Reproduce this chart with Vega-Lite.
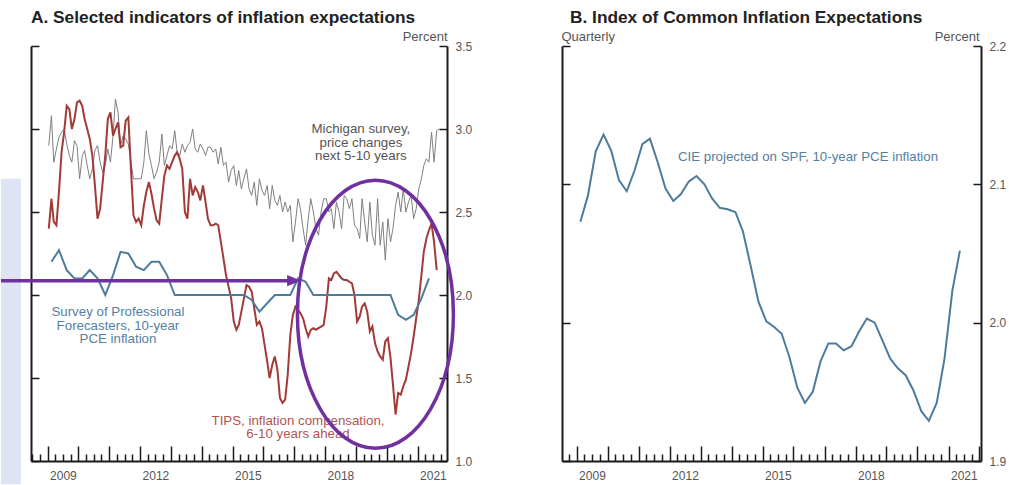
{
"$schema": "https://vega.github.io/schema/vega-lite/v6.json",
"background": "white",
"padding": {"left": 0, "top": 8, "right": 0, "bottom": 0},
"spacing": 89,
"config": {
  "font": "Liberation Sans",
  "view": {"stroke": null},
  "axis": {"domainColor": "#1a1a1a", "domainWidth": 2, "tickColor": "#1a1a1a", "tickWidth": 1.5, "labelColor": "#555555", "labelFontSize": 12, "labelFont": "Liberation Sans", "grid": false, "titleFont": "Liberation Sans", "titleFontSize": 13, "titleFontWeight": "normal", "titleColor": "#555555", "labelFlush": false, "labelOverlap": false}
},
"datasets": {
"monthly": [
{"d":"2009-01-15","mich":2.90,"tips":2.40},{"d":"2009-02-15","mich":3.08,"tips":2.58},{"d":"2009-03-15","mich":2.80,"tips":2.44},{"d":"2009-04-15","mich":2.88,"tips":2.42},{"d":"2009-05-15","mich":2.95,"tips":2.62},{"d":"2009-06-15","mich":2.98,"tips":2.86},{"d":"2009-07-15","mich":3.00,"tips":2.98},{"d":"2009-08-15","mich":2.91,"tips":3.14},{"d":"2009-09-15","mich":2.84,"tips":3.12},{"d":"2009-10-15","mich":2.80,"tips":3.00},{"d":"2009-11-15","mich":2.93,"tips":3.06},{"d":"2009-12-15","mich":2.90,"tips":3.16},
{"d":"2010-01-15","mich":2.70,"tips":3.17},{"d":"2010-02-15","mich":2.84,"tips":3.14},{"d":"2010-03-15","mich":2.87,"tips":3.06},{"d":"2010-04-15","mich":2.78,"tips":3.00},{"d":"2010-05-15","mich":2.70,"tips":2.94},{"d":"2010-06-15","mich":2.76,"tips":2.84},{"d":"2010-07-15","mich":2.87,"tips":2.66},{"d":"2010-08-15","mich":2.90,"tips":2.46},{"d":"2010-09-15","mich":2.80,"tips":2.52},{"d":"2010-10-15","mich":2.74,"tips":2.68},{"d":"2010-11-15","mich":2.78,"tips":2.84},{"d":"2010-12-15","mich":2.88,"tips":3.06},
{"d":"2011-01-15","mich":2.80,"tips":3.10},{"d":"2011-02-15","mich":2.96,"tips":2.96},{"d":"2011-03-15","mich":3.18,"tips":3.00},{"d":"2011-04-15","mich":3.10,"tips":3.04},{"d":"2011-05-15","mich":2.90,"tips":2.89},{"d":"2011-06-15","mich":2.96,"tips":2.90},{"d":"2011-07-15","mich":2.94,"tips":3.05},{"d":"2011-08-15","mich":2.91,"tips":3.07},{"d":"2011-09-15","mich":2.80,"tips":2.76},{"d":"2011-10-15","mich":2.70,"tips":2.48},{"d":"2011-11-15","mich":2.70,"tips":2.44},{"d":"2011-12-15","mich":2.70,"tips":2.46},
{"d":"2012-01-15","mich":2.70,"tips":2.42},{"d":"2012-02-15","mich":2.80,"tips":2.54},{"d":"2012-03-15","mich":2.99,"tips":2.62},{"d":"2012-04-15","mich":2.85,"tips":2.68},{"d":"2012-05-15","mich":2.78,"tips":2.61},{"d":"2012-06-15","mich":2.70,"tips":2.52},{"d":"2012-07-15","mich":2.74,"tips":2.45},{"d":"2012-08-15","mich":2.80,"tips":2.43},{"d":"2012-09-15","mich":2.97,"tips":2.58},{"d":"2012-10-15","mich":2.78,"tips":2.72},{"d":"2012-11-15","mich":2.84,"tips":2.78},{"d":"2012-12-15","mich":2.90,"tips":2.76},
{"d":"2013-01-15","mich":2.88,"tips":2.80},{"d":"2013-02-15","mich":2.99,"tips":2.84},{"d":"2013-03-15","mich":2.86,"tips":2.86},{"d":"2013-04-15","mich":2.84,"tips":2.82},{"d":"2013-05-15","mich":2.91,"tips":2.76},{"d":"2013-06-15","mich":2.86,"tips":2.50},{"d":"2013-07-15","mich":2.90,"tips":2.46},{"d":"2013-08-15","mich":2.92,"tips":2.70},{"d":"2013-09-15","mich":3.00,"tips":2.60},{"d":"2013-10-15","mich":2.88,"tips":2.65},{"d":"2013-11-15","mich":2.86,"tips":2.62},{"d":"2013-12-15","mich":2.91,"tips":2.57},
{"d":"2014-01-15","mich":2.88,"tips":2.66},{"d":"2014-02-15","mich":2.84,"tips":2.56},{"d":"2014-03-15","mich":2.89,"tips":2.46},{"d":"2014-04-15","mich":2.89,"tips":2.42},{"d":"2014-05-15","mich":2.86,"tips":2.42},{"d":"2014-06-15","mich":2.88,"tips":2.43},{"d":"2014-07-15","mich":2.79,"tips":2.42},{"d":"2014-08-15","mich":2.89,"tips":2.32},{"d":"2014-09-15","mich":2.78,"tips":2.22},{"d":"2014-10-15","mich":2.80,"tips":2.12},{"d":"2014-11-15","mich":2.68,"tips":2.05},{"d":"2014-12-15","mich":2.75,"tips":1.98},
{"d":"2015-01-15","mich":2.78,"tips":1.84},{"d":"2015-02-15","mich":2.66,"tips":1.79},{"d":"2015-03-15","mich":2.75,"tips":1.82},{"d":"2015-04-15","mich":2.64,"tips":1.90},{"d":"2015-05-15","mich":2.70,"tips":1.98},{"d":"2015-06-15","mich":2.76,"tips":2.06},{"d":"2015-07-15","mich":2.64,"tips":2.05},{"d":"2015-08-15","mich":2.60,"tips":2.02},{"d":"2015-09-15","mich":2.68,"tips":1.92},{"d":"2015-10-15","mich":2.54,"tips":1.82},{"d":"2015-11-15","mich":2.70,"tips":1.84},{"d":"2015-12-15","mich":2.63,"tips":1.80},
{"d":"2016-01-15","mich":2.60,"tips":1.70},{"d":"2016-02-15","mich":2.66,"tips":1.60},{"d":"2016-03-15","mich":2.52,"tips":1.50},{"d":"2016-04-15","mich":2.66,"tips":1.58},{"d":"2016-05-15","mich":2.57,"tips":1.63},{"d":"2016-06-15","mich":2.54,"tips":1.55},{"d":"2016-07-15","mich":2.60,"tips":1.38},{"d":"2016-08-15","mich":2.50,"tips":1.35},{"d":"2016-09-15","mich":2.56,"tips":1.37},{"d":"2016-10-15","mich":2.50,"tips":1.52},{"d":"2016-11-15","mich":2.54,"tips":1.76},{"d":"2016-12-15","mich":2.32,"tips":1.88},
{"d":"2017-01-15","mich":2.44,"tips":1.93},{"d":"2017-02-15","mich":2.58,"tips":1.91},{"d":"2017-03-15","mich":2.52,"tips":1.89},{"d":"2017-04-15","mich":2.40,"tips":1.86},{"d":"2017-05-15","mich":2.30,"tips":1.80},{"d":"2017-06-15","mich":2.46,"tips":1.75},{"d":"2017-07-15","mich":2.58,"tips":1.79},{"d":"2017-08-15","mich":2.50,"tips":1.80},{"d":"2017-09-15","mich":2.40,"tips":1.79},{"d":"2017-10-15","mich":2.36,"tips":1.80},{"d":"2017-11-15","mich":2.50,"tips":1.81},{"d":"2017-12-15","mich":2.58,"tips":1.82},
{"d":"2018-01-15","mich":2.58,"tips":1.93},{"d":"2018-02-15","mich":2.50,"tips":2.10},{"d":"2018-03-15","mich":2.52,"tips":2.09},{"d":"2018-04-15","mich":2.40,"tips":2.13},{"d":"2018-05-15","mich":2.56,"tips":2.14},{"d":"2018-06-15","mich":2.50,"tips":2.12},{"d":"2018-07-15","mich":2.40,"tips":2.10},{"d":"2018-08-15","mich":2.60,"tips":2.09},{"d":"2018-09-15","mich":2.58,"tips":2.09},{"d":"2018-10-15","mich":2.52,"tips":2.08},{"d":"2018-11-15","mich":2.58,"tips":2.07},{"d":"2018-12-15","mich":2.42,"tips":2.00},
{"d":"2019-01-15","mich":2.40,"tips":1.84},{"d":"2019-02-15","mich":2.34,"tips":1.87},{"d":"2019-03-15","mich":2.58,"tips":1.93},{"d":"2019-04-15","mich":2.44,"tips":1.95},{"d":"2019-05-15","mich":2.32,"tips":1.90},{"d":"2019-06-15","mich":2.56,"tips":1.78},{"d":"2019-07-15","mich":2.36,"tips":1.81},{"d":"2019-08-15","mich":2.30,"tips":1.71},{"d":"2019-09-15","mich":2.58,"tips":1.66},{"d":"2019-10-15","mich":2.30,"tips":1.63},{"d":"2019-11-15","mich":2.44,"tips":1.61},{"d":"2019-12-15","mich":2.21,"tips":1.72},
{"d":"2020-01-15","mich":2.46,"tips":1.74},{"d":"2020-02-15","mich":2.32,"tips":1.62},{"d":"2020-03-15","mich":2.40,"tips":1.46},{"d":"2020-04-15","mich":2.54,"tips":1.28},{"d":"2020-05-15","mich":2.62,"tips":1.41},{"d":"2020-06-15","mich":2.50,"tips":1.40},{"d":"2020-07-15","mich":2.64,"tips":1.45},{"d":"2020-08-15","mich":2.50,"tips":1.49},{"d":"2020-09-15","mich":2.56,"tips":1.57},{"d":"2020-10-15","mich":2.60,"tips":1.65},{"d":"2020-11-15","mich":2.46,"tips":1.75},{"d":"2020-12-15","mich":2.52,"tips":1.86},
{"d":"2021-01-15","mich":2.64,"tips":1.97},{"d":"2021-02-15","mich":2.70,"tips":2.12},{"d":"2021-03-15","mich":2.78,"tips":2.26},{"d":"2021-04-15","mich":2.82,"tips":2.34},{"d":"2021-05-15","mich":2.80,"tips":2.39},{"d":"2021-06-15","mich":2.98,"tips":2.43},{"d":"2021-07-15","mich":2.80,"tips":2.32},{"d":"2021-08-15","mich":2.99,"tips":2.15},{"d":"2021-09-15","mich":3.00,"tips":null}
],
"quarterly": [
{"d":"2009-02-15","spf":2.20,"cie":2.073},{"d":"2009-05-15","spf":2.27,"cie":2.092},{"d":"2009-08-15","spf":2.15,"cie":2.124},{"d":"2009-11-15","spf":2.10,"cie":2.136},
{"d":"2010-02-15","spf":2.10,"cie":2.124},{"d":"2010-05-15","spf":2.15,"cie":2.103},{"d":"2010-08-15","spf":2.10,"cie":2.095},{"d":"2010-11-15","spf":2.00,"cie":2.110},
{"d":"2011-02-15","spf":2.12,"cie":2.129},{"d":"2011-05-15","spf":2.26,"cie":2.133},{"d":"2011-08-15","spf":2.25,"cie":2.116},{"d":"2011-11-15","spf":2.17,"cie":2.097},
{"d":"2012-02-15","spf":2.15,"cie":2.088},{"d":"2012-05-15","spf":2.20,"cie":2.093},{"d":"2012-08-15","spf":2.20,"cie":2.102},{"d":"2012-11-15","spf":2.12,"cie":2.106},
{"d":"2013-02-15","spf":2.00,"cie":2.100},{"d":"2013-05-15","spf":2.00,"cie":2.090},{"d":"2013-08-15","spf":2.00,"cie":2.083},{"d":"2013-11-15","spf":2.00,"cie":2.082},
{"d":"2014-02-15","spf":2.00,"cie":2.080},{"d":"2014-05-15","spf":2.00,"cie":2.066},{"d":"2014-08-15","spf":2.00,"cie":2.041},{"d":"2014-11-15","spf":2.00,"cie":2.015},
{"d":"2015-02-15","spf":2.00,"cie":2.001},{"d":"2015-05-15","spf":2.00,"cie":1.997},{"d":"2015-08-15","spf":1.97,"cie":1.992},{"d":"2015-11-15","spf":1.90,"cie":1.975},
{"d":"2016-02-15","spf":1.95,"cie":1.953},{"d":"2016-05-15","spf":2.00,"cie":1.942},{"d":"2016-08-15","spf":2.00,"cie":1.950},{"d":"2016-11-15","spf":2.00,"cie":1.972},
{"d":"2017-02-15","spf":2.10,"cie":1.985},{"d":"2017-05-15","spf":2.08,"cie":1.985},{"d":"2017-08-15","spf":2.00,"cie":1.980},{"d":"2017-11-15","spf":2.00,"cie":1.983},
{"d":"2018-02-15","spf":2.00,"cie":1.994},{"d":"2018-05-15","spf":2.00,"cie":2.003},{"d":"2018-08-15","spf":2.00,"cie":2.000},{"d":"2018-11-15","spf":2.00,"cie":1.987},
{"d":"2019-02-15","spf":2.00,"cie":1.974},{"d":"2019-05-15","spf":2.00,"cie":1.967},{"d":"2019-08-15","spf":2.00,"cie":1.962},{"d":"2019-11-15","spf":2.00,"cie":1.951},
{"d":"2020-02-15","spf":2.00,"cie":1.936},{"d":"2020-05-15","spf":1.88,"cie":1.929},{"d":"2020-08-15","spf":1.85,"cie":1.942},{"d":"2020-11-15","spf":1.88,"cie":1.974},
{"d":"2021-02-15","spf":1.98,"cie":2.023},{"d":"2021-05-15","spf":2.10,"cie":2.052}
]
},
"hconcat": [
{
  "width": 416, "height": 415,
  "title": {"text": "A. Selected indicators of inflation expectations", "anchor": "start", "frame": "group", "fontSize": 17.3, "fontWeight": "bold", "font": "Liberation Sans", "color": "#222222", "offset": 4},
  "encoding": {
    "x": {"field": "d", "type": "temporal",
      "scale": {"type": "utc", "nice": false, "domain": [{"year": 2008, "month": 6, "date": 18, "utc": true}, {"year": 2021, "month": 12, "date": 15, "utc": true}]},
      "axis": {"orient": "bottom", "title": null, "tickCount": {"interval": "month", "step": 3},
        "labelExpr": "utcmonth(datum.value) == 6 && (utcyear(datum.value) - 2009) % 3 == 0 ? utcFormat(datum.value, '%Y') : ''",
        "tickSize": {"condition": {"test": "utcmonth(datum.value) == 0", "value": -15}, "value": -7},
        "labelPadding": 16}}
  },
  "layer": [
    {"data": {"values": [{"d": "2007-06-28", "d2": "2008-02-20", "v": 2.70, "v2": 0.86}]},
     "mark": {"type": "rect", "color": "#dfe4f4", "clip": false},
     "encoding": {"x2": {"field": "d2"}, "y": {"field": "v", "type": "quantitative", "scale": {"domain": [1, 3.5], "nice": false, "zero": false}, "axis": null}, "y2": {"field": "v2"}}},
    {"data": {"name": "monthly"},
     "mark": {"type": "line", "color": "#808080", "strokeWidth": 1},
     "encoding": {"y": {"field": "mich", "type": "quantitative", "scale": {"domain": [1, 3.5], "nice": false, "zero": false},
       "axis": {"orient": "left", "values": [1, 1.5, 2, 2.5, 3, 3.5], "tickSize": -8, "labels": false, "title": null}}}},
    {"data": {"name": "monthly"},
     "mark": {"type": "line", "color": "#a23a38", "strokeWidth": 2},
     "encoding": {"y": {"field": "tips", "type": "quantitative", "scale": {"domain": [1, 3.5], "nice": false, "zero": false},
       "axis": {"orient": "right", "values": [1, 1.5, 2, 2.5, 3, 3.5], "format": ".1f", "tickSize": -8, "labelPadding": 16,
         "title": "Percent", "titleAngle": 0, "titleX": 0, "titleY": -6, "titleAlign": "right", "titleBaseline": "alphabetic"}}}},
    {"data": {"name": "quarterly"},
     "mark": {"type": "line", "color": "#4f7b9b", "strokeWidth": 2},
     "encoding": {"y": {"field": "spf", "type": "quantitative", "scale": {"domain": [1, 3.5], "nice": false, "zero": false}, "axis": null}}},
    {"data": {"values": [
       {"series": "Michigan", "d": "2019-03-01", "v": 3.0, "label": "Michigan survey,|price changes|next 5-10 years"},
       {"series": "SPF", "d": "2011-04-14", "v": 1.895, "label": "Survey of Professional|Forecasters, 10-year|PCE inflation"},
       {"series": "TIPS", "d": "2017-02-14", "v": 1.243, "label": "TIPS, inflation compensation,|6-10 years ahead"}]},
     "mark": {"type": "text", "fontSize": 13.3, "lineBreak": "|", "lineHeight": 13.5, "align": "center", "baseline": "middle", "font": "Liberation Sans"},
     "encoding": {"y": {"field": "v", "type": "quantitative", "scale": {"domain": [1, 3.5], "nice": false, "zero": false}, "axis": null},
       "text": {"field": "label"},
       "color": {"field": "series", "type": "nominal", "scale": {"domain": ["Michigan", "SPF", "TIPS"], "range": ["#555555", "#5580a2", "#b05552"]}, "legend": null}}},
    {"data": {"values": [{"d": "2007-06-28", "d2": "2016-12-30", "v": 2.0755, "v2": 2.0965}]},
     "mark": {"type": "rect", "color": "#7030a0", "clip": false},
     "encoding": {"x2": {"field": "d2"}, "y": {"field": "v", "type": "quantitative", "scale": {"domain": [1, 3.5], "nice": false, "zero": false}, "axis": null}, "y2": {"field": "v2"}}},
    {"data": {"values": [{"d": "2016-12-30", "v": 2.086}]},
     "mark": {"type": "point", "shape": "M -1,-0.8 L 1,0 L -1,0.8 Z", "size": 196, "filled": true, "color": "#7030a0", "opacity": 1},
     "encoding": {"y": {"field": "v", "type": "quantitative", "scale": {"domain": [1, 3.5], "nice": false, "zero": false}, "axis": null}}},
    {"data": {"values": [{"d": "2019-08-20", "v": 1.884}]},
     "mark": {"type": "point", "shape": "M -0.582,0 A 0.582,1 0 1,0 0.582,0 A 0.582,1 0 1,0 -0.582,0 Z", "size": 71824, "filled": false, "stroke": "#7030a0", "strokeWidth": 3.5, "opacity": 1, "clip": false},
     "encoding": {"y": {"field": "v", "type": "quantitative", "scale": {"domain": [1, 3.5], "nice": false, "zero": false}, "axis": null}}}
  ],
  "resolve": {"axis": {"y": "independent"}}
},
{
  "width": 419, "height": 415,
  "title": {"text": "B. Index of Common Inflation Expectations", "anchor": "start", "frame": "group", "fontSize": 17.3, "fontWeight": "bold", "font": "Liberation Sans", "color": "#222222", "offset": 4, "dx": 8},
  "encoding": {
    "x": {"field": "d", "type": "temporal",
      "scale": {"type": "utc", "nice": false, "domain": [{"year": 2008, "month": 7, "date": 13, "utc": true}, {"year": 2022, "month": 1, "date": 19, "utc": true}]},
      "axis": {"orient": "bottom", "title": null, "tickCount": {"interval": "month", "step": 3},
        "labelExpr": "utcmonth(datum.value) == 6 && (utcyear(datum.value) - 2009) % 3 == 0 ? utcFormat(datum.value, '%Y') : ''",
        "tickSize": {"condition": {"test": "utcmonth(datum.value) == 0", "value": -15}, "value": -7},
        "labelPadding": 16}}
  },
  "layer": [
    {"data": {"name": "quarterly"},
     "mark": {"type": "line", "color": "#4f7b9b", "strokeWidth": 2},
     "encoding": {"y": {"field": "cie", "type": "quantitative", "scale": {"domain": [1.9, 2.2], "nice": false, "zero": false},
       "axis": {"orient": "left", "values": [1.9, 2.0, 2.1, 2.2], "tickSize": -8, "labels": false,
         "title": "Quarterly", "titleAngle": 0, "titleX": -1, "titleY": -6, "titleAlign": "left", "titleBaseline": "alphabetic"}}}},
    {"data": {"values": [{"d": "2016-06-20", "v": 2.12, "label": "CIE projected on SPF, 10-year PCE inflation"}]},
     "mark": {"type": "text", "fontSize": 13.3, "color": "#5580a2", "align": "center", "baseline": "middle", "font": "Liberation Sans"},
     "encoding": {"y": {"field": "v", "type": "quantitative", "scale": {"domain": [1.9, 2.2], "nice": false, "zero": false},
       "axis": {"orient": "right", "values": [1.9, 2.0, 2.1, 2.2], "format": ".1f", "tickSize": -8, "labelPadding": 16,
         "title": "Percent", "titleAngle": 0, "titleX": -2, "titleY": -6, "titleAlign": "right", "titleBaseline": "alphabetic"}},
       "text": {"field": "label"}}}
  ],
  "resolve": {"axis": {"y": "independent"}}
}
]
}
